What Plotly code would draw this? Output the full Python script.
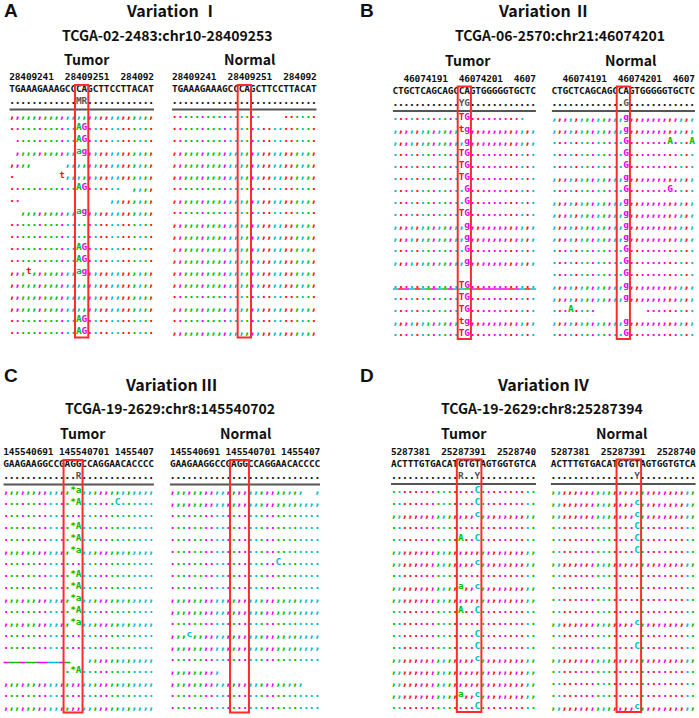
import plotly.graph_objects as go

W, H = 699, 718

# ------------------------------------------------------------------ data
A_title = "Variation Ⅰ"
A_sample = "TCGA-02-2483:chr10-28409253"
A_pos = "28409241  28409251  284092"
A_ref = "TGAAAGAAAGCCCAGCTTCCTTACAT"
A_cons_tumor = "............MR............"
A_cons_normal = ".........................."
A_box = [12, 13]
A_tumor = [
    ",,,,,,,,,,,,,,,,,,,,,,,,,,",
    "............AG............",
    " ...........AG............",
    " ,,,,,,,,,,,ag,,,,,,,,,,,,",
    ",,,,      ,,,,,,,,,,,,,,,,",
    ".        t,,,,,,,,,,,,,,,,",
    "............AG......  ,,,,",
    "..                ,,,,,,,,",
    "  ,,,,,,,,,,ag,,,,,,,,,,,,",
    "..........................",
    "..........................",
    "............AG............",
    "............AG............",
    ",,,t,,,,,,,,ag,,,,,,,,,,,,",
    ",,,,,,,,,,,,,,,,,,,,,,,,,,",
    ",,,,,,,,,,,,,,,,,,,,,,,,,,",
    ",,,,,,,,,,,,,,,,,,,,,,,,,,",
    "............AG............",
    "............AG............",
]
A_normal = [
    "................    ......",
    "..........................",
    "..........................",
    ",,,,,,,,,,,,,,,,,,,,,,,,,,",
    ",,,,,,,,,,,,,,,,,,,,,,,,,,",
    ",,,,,,,,,,,,,,,,,,,,,,,,,,",
    "..........................",
    ",,,,,,,,,,,,,,,,,,,,,,,,,,",
    "..........................",
    ",,,,,,,,,,,,,,,,,,,,,,,,,,",
    ",,,,,,,,,,,,,,,,,,,,,,,,,,",
    ",,,,,,,,,,,,,,,,,,,,,,,,,,",
    ",,,,,,,,,,,,,,,,,,,,,,,,,,",
    ",,,,,,,,,,,,,,,,,,,,,,,,,,",
    ",,,,,,,,,,,,,,,,,,,,,,,,,,",
    "..........................",
    ",,,,,,,,,,,,,,,,,,,,,,,,,,",
    "..........................",
    ",,,,,,,,,,,,,,,,,,,,,,,,,,",
]
A_tumor_underline = []
A_normal_underline = []

B_title = "Variation Ⅱ"
B_sample = "TCGA-06-2570:chr21:46074201"
B_pos = "  46074191  46074201  4607"
B_ref = "CTGCTCAGCAGCCAGTGGGGGTGCTC"
B_cons_tumor = "............YG............"
B_cons_normal = ".............G............"
B_box = [12, 13]
B_tumor = [
    "............TG..........  ",
    ",,,,,,,,,,,,tg,,,,,,,,,,,,",
    ",,,,,,,,,,,,,g,,,,,,,,,,,,",
    "............TG............",
    "............TG............",
    "............TG............",
    ".............G............",
    ".............G............",
    "............TG............",
    ",,,,,,,,,,,,,g,,,,,,,,,,,,",
    ",,,,,,,,,,,,,g,,,,,,,,,,,,",
    ".............G............",
    ",,,,,,,,,,,,,g,,,,,,,,,,,,",
    "                          ",
    "............TG............",
    "............TG............",
    "............TG............",
    ",,,,,,,,,,,,tg,,,,,,,,,,,,",
    "............TG............",
]
B_normal = [
    ",,,,,,,,,,,,,g,,,,,,,,,,,,",
    ",,,,,,,,,,,,,g,,,,,,,,,,,,",
    ".............G.......A...A",
    ".............G............",
    ".............G............",
    ",,,,,,,,,,,,,g,,,,,,,,,,,,",
    ".............G.......G....",
    ",,,,,,,,,,,,,g,,,,,,,,,,,,",
    ",,,,,,,,,,,,,g,,,,,,,,,,,,",
    ",,,,,,,,,,,,,g,,,,,,,,,,,,",
    ",,,,,,,,,,,,,g,,,,,,,,,,,,",
    ".............G............",
    ".............G............",
    ".............G............",
    ",,,,,,,,,,,,,g,,,,,,,,,,,,",
    ",,,,,,,,,,,,,g,,,,,,,,,,,,",
    "...A....         .........",
    ",,,,,,,,,,,,,g,,,,,,,,,,,,",
    ".............G............",
]
B_tumor_underline = [(15, 0, 25)]
B_normal_underline = []

C_title = "Variation Ⅲ"
C_sample = "TCGA-19-2629:chr8:145540702"
C_pos = "145540691 145540701 1455407"
C_ref = "GAAGAAGGCCGAGGCCAGGAACACCCC"
C_cons_tumor = ".............R............."
C_cons_normal = "..........................."
C_box = [11, 13]
C_tumor = [
    ",,,,,,,,,,,,*a,,,,,,,,,,,,,",
    "............*A......C......",
    "...........................",
    "............*A.............",
    "............*A.............",
    ",,,,,,,,,,,,*a,,,,,,,,,,,,,",
    "...........................",
    "............*A.............",
    "............*A.............",
    ",,,,,,,,,,,,*a,,,,,,,,,,,,,",
    "............*A.............",
    ",,,,,,,,,,,,*a,,,,,,,,,,,,,",
    "...........................",
    "...........................",
    "               ,,,,,,,,,,,,",
    "           .*A.............",
    ",,,,,,,,,,,,,,,,,,,,,,,,,,,",
    "...........................",
    ",,,,,,,,,,,,,,,,,,,,,,,,,,,",
]
C_normal = [
    ",,,,,,,,,,,,,,,,,,,,,,,,  ,",
    ",,,,,,,,,,,,,,,,,,,,,,,,,,,",
    "...........................",
    "...........................",
    "...........................",
    "...........................",
    "...................C.......",
    "...........................",
    "...........................",
    ",,,,,,,,,,,,,,,,,,,,,,,,,,,",
    ",,,,,,,,,,,,,,,,,,,,,,,,,,,",
    "...........................",
    ",,,c,,,,,,,,,,,,,,,,,,,,,,,",
    ",,,,,,,,,,,,,,,,,,,,,,,,,,,",
    "...........................",
    ",,,,,,,,,                  ",
    ",,,,,,,,,,,,,,,,,,,,,,,,   ",
    "...........................",
    "...........................",
]
C_tumor_underline = [(15, 0, 11)]
C_normal_underline = []

D_title = "Variation Ⅳ"
D_sample = "TCGA-19-2629:chr8:25287394"
D_pos = "5287381  25287391  2528740"
D_ref = "ACTTTGTGACATGTGTAGTGGTGTCA"
D_cons_tumor = "............R..Y.........."
D_cons_normal = "...............Y.........."
D_box = [12, 15]
D_tumor = [
    "...............C..........",
    "...............C..........",
    ",,,,,,,,,,,,,,,c,,,,,,,,,,",
    "..........................",
    "............A..C..........",
    ",,,,,,,,,,,,,,,,,,,,,,,,,,",
    ",,,,,,,,,,,,,,,c,,,,,,,,,,",
    "..........................",
    ",,,,,,,,,,,,a,,c,,,,,,,,,,",
    ",,,,,,,,,,,,,,,,,,,,,,,,,,",
    "............A..C..........",
    "..........................",
    "...............C..........",
    "...............C..........",
    ",,,,,,,,,,,,,,,c,,,,,,,,,,",
    ",,,,,,,,,,,,,,,,,,,,,,,,,,",
    ",,,,,,,,,,,,,,,,,,,,,,,,,,",
    ",,,,,,,,,,,,a,,c,,,,,,,,,,",
    "...............C..........",
]
D_normal = [
    ",,,,,,,,,,,,,,,,,,,,,,,,,,",
    ",,,,,,,,,,,,,,,c,,,,,,,,,,",
    ",,,,,,,,,,,,,,,c,,,,,,,,,,",
    "...............C..........",
    "...............C..........",
    "...............C..........",
    ",,,,,,,,,,,,,,,,,,,,,,,,,,",
    "..........................",
    "..........................",
    "..........................",
    "..........................",
    ",,,,,,,,,,,,,,,c,,,,,,,,,,",
    "..........................",
    "...............C..........",
    ",,,,,,,,,,,,,,,,,,,,,,,,,,",
    "..........................",
    "..........................",
    "..........................",
    ",,,,,,,,,,,,,,,c,,,,,,,,,,",
]
D_tumor_underline = []
D_normal_underline = []

# ------------------------------------------------------------------ styles
BASE_COLORS = {"A": "#00c000", "C": "#00bcc8", "G": "#f000f0", "T": "#ff1010"}
STAR_COLOR = "#00c000"
MONO = "DejaVu Sans Mono"
PUNCT = "DejaVu Sans"
SANS = "Noto Sans CJK KR, Noto Sans, sans-serif"
ROW = 12.0  # pixel height of one alignment row

panels = [
    dict(letter="A", title=A_title, sample=A_sample, pos=A_pos, ref=A_ref,
         cons=(A_cons_tumor, A_cons_normal), reads=(A_tumor, A_normal),
         ul=(A_tumor_underline, A_normal_underline), box=A_box,
         base=116.0, blocks=((9.3, 5.565), (172.0, 5.565)),
         letter_xy=(11, 10), title_xy=(172, 10), sample_xy=(167, 35),
         tumor_xy=(87, 59), normal_xy=(250, 59)),
    dict(letter="B", title=B_title, sample=B_sample, pos=B_pos, ref=B_ref,
         cons=(B_cons_tumor, B_cons_normal), reads=(B_tumor, B_normal),
         ul=(B_tumor_underline, B_normal_underline), box=B_box,
         base=117.5, blocks=((392.7, 5.51), (551.7, 5.51)),
         letter_xy=(367, 10), title_xy=(544, 10), sample_xy=(560, 35),
         tumor_xy=(468, 60), normal_xy=(631, 60)),
    dict(letter="C", title=C_title, sample=C_sample, pos=C_pos, ref=C_ref,
         cons=(C_cons_tumor, C_cons_normal), reads=(C_tumor, C_normal),
         ul=(C_tumor_underline, C_normal_underline), box=C_box,
         base=491.0, blocks=((3.3, 5.58), (170.0, 5.56)),
         letter_xy=(11, 375), title_xy=(171, 384), sample_xy=(170, 408),
         tumor_xy=(83, 433), normal_xy=(246, 433)),
    dict(letter="D", title=D_title, sample=D_sample, pos=D_pos, ref=D_ref,
         cons=(D_cons_tumor, D_cons_normal), reads=(D_tumor, D_normal),
         ul=(D_tumor_underline, D_normal_underline), box=D_box,
         base=490.5, blocks=((391.0, 5.58), (550.7, 5.58)),
         letter_xy=(367, 375), title_xy=(543, 384), sample_xy=(542, 408),
         tumor_xy=(464, 433), normal_xy=(622, 433)),
]

Y_POS, Y_REF, Y_CONS, Y_LINE = -2.17, -1.17, -0.17, 0.46
BOX_Y0, BOX_Y1 = -1.58, 19.45
UL_OFFSET = 0.3
Y_MIN, Y_MAX = -2.7, 19.75

fig = go.Figure()
layout = dict(width=W, height=H, margin=dict(l=0, r=0, t=0, b=0),
              paper_bgcolor="white", plot_bgcolor="white",
              showlegend=False, hovermode=False)
shapes, annotations = [], []


def px(xp, yp):
    return xp / W, 1 - yp / H


idx = 0
for p in panels:
    for bi in range(2):
        idx += 1
        sfx = "" if idx == 1 else str(idx)
        left, cw = p["blocks"][bi]
        ref = p["ref"]
        n = len(ref)
        top = p["base"] + (Y_MIN - 1) * ROW
        bot = p["base"] + (Y_MAX - 1) * ROW
        layout["xaxis" + sfx] = dict(domain=[left / W, (left + n * cw) / W], range=[-0.5, n - 0.5],
                                     visible=False, fixedrange=True, anchor="y" + sfx)
        layout["yaxis" + sfx] = dict(domain=[max(0, 1 - bot / H), 1 - top / H], range=[Y_MAX, Y_MIN],
                                     visible=False, fixedrange=True, anchor="x" + sfx)
        groups = {"mono": ([], [], [], [], []), "punct": ([], [], [], [], [])}

        def put(g, c, r, ch, color, size):
            xs, ys, tx, cols, sizes = groups[g]
            xs.append(c); ys.append(r); tx.append(ch); cols.append(color); sizes.append(size)

        for c, ch in enumerate(p["pos"]):
            if ch != " ":
                put("mono", c, Y_POS, ch, "#111111", 9.5)
        for c, ch in enumerate(ref):
            put("mono", c, Y_REF, ch, "#111111", 9.5)
        for c, ch in enumerate(p["cons"][bi].ljust(n)[:n]):
            if ch == ".":
                put("punct", c, Y_CONS, ch, "#222222", 10)
            elif ch != " ":
                put("mono", c, Y_CONS, ch, "#555555", 9.5)
        for r, row in enumerate(p["reads"][bi], start=1):
            for c, ch in enumerate(row.ljust(n)[:n]):
                if ch == " ":
                    continue
                if ch in ".,":
                    put("punct", c, r, ch, BASE_COLORS[ref[c]], 10)
                elif ch == "*":
                    put("mono", c, r, ch, STAR_COLOR, 9.5)
                else:
                    put("mono", c, r, ch, BASE_COLORS[ch.upper()], 9.5)

        for g, fam in (("punct", PUNCT), ("mono", MONO)):
            xs, ys, tx, cols, sizes = groups[g]
            fig.add_trace(go.Scatter(x=xs, y=ys, text=tx, mode="text", textposition="middle center",
                                     textfont=dict(family=fam, size=sizes, color=cols, weight="bold"),
                                     xaxis="x" + sfx, yaxis="y" + sfx, hoverinfo="skip",
                                     cliponaxis=False))
        # underlined rows: one coloured segment per column, coloured by the reference base
        for (r, c0, c1) in p["ul"][bi]:
            for c in range(c0, c1 + 1):
                shapes.append(dict(type="line", xref="x" + sfx, yref="y" + sfx,
                                   x0=c - 0.5, x1=c + 0.5, y0=r + UL_OFFSET, y1=r + UL_OFFSET,
                                   line=dict(color=BASE_COLORS[ref[c]], width=1.5)))
        shapes.append(dict(type="line", xref="x" + sfx, yref="y" + sfx, x0=-0.5, x1=n - 0.5,
                           y0=Y_LINE, y1=Y_LINE, line=dict(color="#555555", width=2)))
        b0, b1 = p["box"][0], p["box"][-1]
        shapes.append(dict(type="rect", xref="x" + sfx, yref="y" + sfx, x0=b0 - 0.7, x1=b1 + 0.7,
                           y0=BOX_Y0, y1=BOX_Y1, line=dict(color="#ff2b2b", width=2),
                           fillcolor="rgba(0,0,0,0)"))

    def ann(text, xy, size, family=SANS):
        x, y = px(*xy)
        annotations.append(dict(text=text, x=x, y=y, xref="paper", yref="paper", showarrow=False,
                                xanchor="center", yanchor="middle",
                                font=dict(family=family, size=size, color="#111111", weight="bold")))
    ann(p["letter"], p["letter_xy"], 19, "Liberation Sans, Arial, sans-serif")
    ann(p["title"], p["title_xy"], 16)
    ann(p["sample"], p["sample_xy"], 14)
    ann("Tumor", p["tumor_xy"], 14)
    ann("Normal", p["normal_xy"], 14)

layout["shapes"] = shapes
layout["annotations"] = annotations
fig.update_layout(**layout)
fig.write_html("out.html", config={"displayModeBar": False},
               post_script="document.body.style.margin='0';document.body.style.padding='0';"
                           "document.documentElement.style.overflow='hidden';")
